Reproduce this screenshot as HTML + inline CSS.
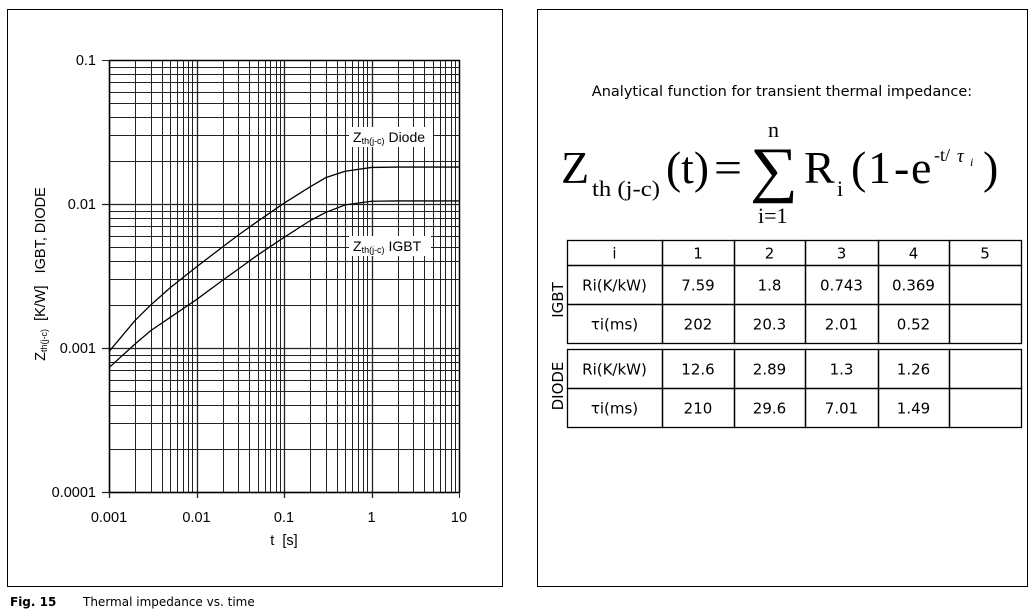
<!DOCTYPE html>
<html><head><meta charset="utf-8"><style>
html,body{margin:0;padding:0;background:#fff;}
svg{display:block;font-family:"Liberation Sans",Arial,sans-serif;}
</style></head><body>
<svg id="s" width="1035" height="614" viewBox="0 0 1035 614" xmlns="http://www.w3.org/2000/svg">
<rect x="7.5" y="9.5" width="495" height="577" fill="none" stroke="#000" stroke-width="1"/>
<rect x="537.5" y="9.5" width="490" height="577" fill="none" stroke="#000" stroke-width="1"/>
<g id="grid"></g>
<g id="ticks" font-size="14.5" fill="#000"></g>
<g id="curves"></g>
<g>
<rect x="349" y="127" width="84" height="20" fill="#fff"/>
<text x="353" y="142" font-size="14">Z<tspan font-size="9" dy="2">th(j-c)</tspan><tspan dy="-2">&#160;Diode</tspan></text>
</g>
<g>
<rect x="349" y="236" width="82" height="20" fill="#fff"/>
<text x="353" y="251" font-size="14">Z<tspan font-size="9" dy="2">th(j-c)</tspan><tspan dy="-2">&#160;IGBT</tspan></text>
</g>
<text transform="translate(45,274) rotate(-90)" text-anchor="middle" font-size="14.5">Z<tspan font-size="9" dy="2">th(j-c)</tspan><tspan dy="-2">&#160;&#160;[K/W]&#160;&#160;&#160;IGBT, DIODE</tspan></text>
<text x="284" y="545" text-anchor="middle" font-size="14.5">t&#160;&#160;[s]</text>
<text x="10" y="606" font-size="12" font-weight="bold" font-family="DejaVu Sans,sans-serif">Fig. 15</text>
<text x="83" y="606" font-size="12" font-family="DejaVu Sans,sans-serif">Thermal impedance vs. time</text>

<text x="782" y="96" text-anchor="middle" font-size="14.5" font-family="DejaVu Sans,sans-serif">Analytical function for transient thermal impedance:</text>
<g font-family="Liberation Serif,serif">
<text x="561" y="183" font-size="46">Z</text>
<text x="592" y="196" font-size="22" textLength="68" lengthAdjust="spacingAndGlyphs">th (j-c)</text>
<text x="666" y="183" font-size="46" textLength="43" lengthAdjust="spacingAndGlyphs">(t)</text>
<text x="714" y="183" font-size="46" textLength="28" lengthAdjust="spacingAndGlyphs">=</text>
<text x="750" y="190" font-size="62" textLength="48" lengthAdjust="spacingAndGlyphs">∑</text>
<text x="768" y="137" font-size="22">n</text>
<text x="758" y="223" font-size="22">i=1</text>
<text x="804" y="183" font-size="46">R</text>
<text x="837" y="196" font-size="22">i</text>
<text x="851" y="183" font-size="46">(</text>
<text x="868" y="183" font-size="46">1</text>
<text x="894" y="183" font-size="46">-</text>
<text x="911" y="183" font-size="46">e</text>
<text x="934" y="161" font-size="18">-t/</text>
<text x="957" y="162" font-size="19" font-style="italic">τ</text>
<text x="970" y="166" font-size="12" font-style="italic">i</text>
<text x="983" y="183" font-size="46">)</text>
</g>
<g id="table" font-family="DejaVu Sans,sans-serif" font-size="15"></g>
<text transform="translate(563,300) rotate(-90)" text-anchor="middle" font-size="15" font-family="DejaVu Sans,sans-serif">IGBT</text>
<text transform="translate(563,386) rotate(-90)" text-anchor="middle" font-size="15" font-family="DejaVu Sans,sans-serif">DIODE</text>
</svg>
<script>
const times = [0.001,0.002,0.003,0.005,0.01,0.02,0.03,0.05,0.1,0.2,0.3,0.5,1,2,5,10];
const igbtZth = [0.00073,0.00107,0.00132,0.00163,0.00217,0.00296,0.00353,0.00442,0.00586,0.00768,0.00874,0.00986,0.01045,0.0105,0.0105,0.0105];
const diodeZth = [0.000945,0.00156,0.00199,0.00262,0.00366,0.00505,0.00608,0.00758,0.01013,0.01319,0.01524,0.01688,0.01794,0.01805,0.01805,0.01805];
const xTicks = [0.001,0.01,0.1,1,10];
const xTickLabels = ["0.001","0.01","0.1","1","10"];
const yTicks = [0.0001,0.001,0.01,0.1];
const yTickLabels = ["0.0001","0.001","0.01","0.1"];
const tableHead = ["i","1","2","3","4","5"];
const igbtRows = [["Ri(K/kW)","7.59","1.8","0.743","0.369",""],["τi(ms)","202","20.3","2.01","0.52",""]];
const diodeRows = [["Ri(K/kW)","12.6","2.89","1.3","1.26",""],["τi(ms)","210","29.6","7.01","1.49",""]];

const NS="http://www.w3.org/2000/svg";
const X0=109,X1=459,Y0=492,Y1=60;
function xs(v){return X0+(Math.log10(v)+3)/4*(X1-X0);}
function ys(v){return Y0-(Math.log10(v)+4)/3*(Y0-Y1);}
function mk(tag,attrs,parent){const e=document.createElementNS(NS,tag);for(const k in attrs)e.setAttribute(k,attrs[k]);parent.appendChild(e);return e;}
const grid=document.getElementById('grid');
for(let d=-3;d<1;d++)for(let m=1;m<10;m++){const v=m*Math.pow(10,d);const x=Math.round(xs(v))+0.5;
 const l=mk('line',{x1:x,x2:x,y1:Y1,y2:Y0+(m===1?6:0),stroke:'#222','stroke-width':m===1?1.3:1},grid);
 
 }
for(let d=-4;d<-1;d++)for(let m=1;m<10;m++){const v=m*Math.pow(10,d);const y=Math.round(ys(v))+0.5;
 const l=mk('line',{x1:X0-(m===1?7:0),x2:X1,y1:y,y2:y,stroke:'#222','stroke-width':m===1?1.3:1},grid);
 
 }
mk('rect',{x:X0+0.5,y:Y1+0.5,width:X1-X0,height:Y0-Y1,fill:'none',stroke:'#000','stroke-width':1.5},grid);
mk('line',{x1:X1+0.5,x2:X1+0.5,y1:Y0,y2:Y0+6,stroke:'#222'},grid);
mk('line',{x1:X0-7,x2:X0,y1:Y1+0.5,y2:Y1+0.5,stroke:'#222'},grid);
const ticks=document.getElementById('ticks');
xTicks.forEach((v,i)=>{const t=mk('text',{x:xs(v),y:Y0+30,'text-anchor':'middle'},ticks);t.textContent=xTickLabels[i];
 
 });
yTicks.forEach((v,i)=>{const t=mk('text',{x:X0-13,y:ys(v)+5,'text-anchor':'end'},ticks);t.textContent=yTickLabels[i];
 
 });
const curves=document.getElementById('curves');
function line(vals,name){const p=mk('polyline',{points:times.map((t,i)=>xs(t)+','+ys(vals[i])).join(' '),fill:'none',stroke:'#000','stroke-width':1.3,'stroke-linejoin':'round'},curves);
 
 }
line(igbtZth,'igbt-curve');line(diodeZth,'diode-curve');
const tb=document.getElementById('table');
const cols=[567,662,734,805,878,949,1021];
function row(cells,y0,y1,name){cells.forEach((c,i)=>{
 const r=mk('rect',{x:cols[i]+0.5,y:y0+0.5,width:cols[i+1]-cols[i],height:y1-y0,fill:'none',stroke:'#000','stroke-width':1.3},tb);
 
 
 const t=mk('text',{x:(cols[i]+cols[i+1])/2,y:(y0+y1)/2+6,'text-anchor':'middle'},tb);t.textContent=c;
 
 });}
row(tableHead,240,265,'header');
row(igbtRows[0],265,304,'igbt-ri');
row(igbtRows[1],304,343,'igbt-tau');
row(diodeRows[0],349,388,'diode-ri');
row(diodeRows[1],388,427,'diode-tau');
</script>
</body></html>
